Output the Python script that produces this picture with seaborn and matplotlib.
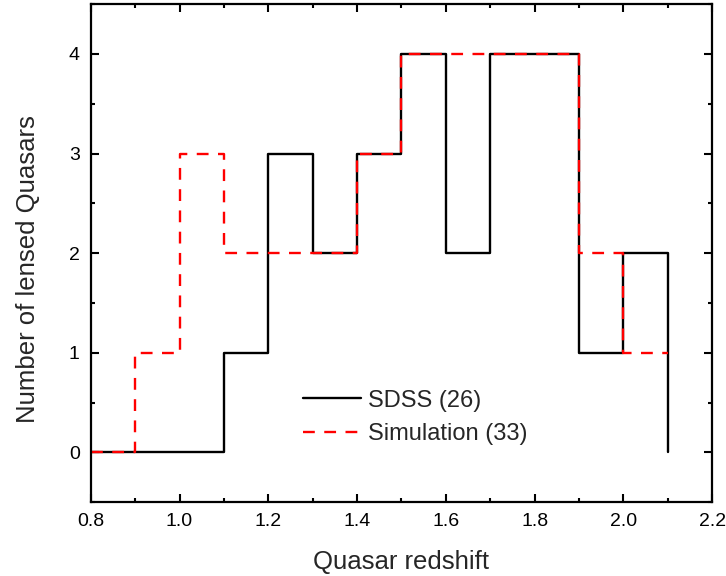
import numpy as np
import pandas as pd
import matplotlib
matplotlib.use("Agg")
import matplotlib.pyplot as plt
from matplotlib.ticker import MultipleLocator
import seaborn as sns

# Bin left edges (plus closing edge) and counts per bin
edges = [0.8, 0.9, 1.0, 1.1, 1.2, 1.3, 1.4, 1.5, 1.6, 1.7, 1.8, 1.9, 2.0, 2.1]
sdss_counts = [0, 0, 0, 1, 3, 2, 3, 4, 2, 4, 4, 1, 2, 0]
sim_counts = [0, 1, 3, 2, 2, 2, 3, 4, 4, 4, 4, 2, 1, 1]
sdss_label = "SDSS (26)"
sim_label = "Simulation (33)"

sns.set_theme(style="ticks")
plt.rcParams['font.family'] = ['Liberation Sans', 'DejaVu Sans']

df_sdss = pd.DataFrame({"z": edges, "n": sdss_counts})
df_sim = pd.DataFrame({"z": edges, "n": sim_counts})

fig = plt.figure(figsize=(7.26, 5.76), dpi=100)
ax = fig.add_axes([0.125, 0.128, 0.856, 0.865])

sns.lineplot(data=df_sdss, x="z", y="n", ax=ax, color="black", lw=1.7,
             drawstyle="steps-post", estimator=None, sort=False, label=sdss_label)
sns.lineplot(data=df_sim, x="z", y="n", ax=ax, color="red", lw=1.7,
             drawstyle="steps-post", estimator=None, sort=False, label=sim_label)
ax.lines[1].set_dashes([5, 4])

ax.set_xlim(0.8, 2.2)
ax.set_ylim(-0.5, 4.5)
ax.xaxis.set_major_locator(MultipleLocator(0.2))
ax.xaxis.set_minor_locator(MultipleLocator(0.1))
ax.yaxis.set_major_locator(MultipleLocator(1))
ax.yaxis.set_minor_locator(MultipleLocator(0.5))
ax.set_xticklabels([f"{v:.1f}" for v in ax.get_xticks()])
ax.tick_params(which="both", direction="in", top=True, right=True, width=1.5,
               labelsize=14, colors="black", pad=8)
ax.tick_params(which="major", length=6)
ax.tick_params(which="minor", length=3)
for s in ax.spines.values():
    s.set_linewidth(1.6)
    s.set_color("black")

ax.set_xlabel("Quasar redshift", fontsize=18.5)
ax.set_ylabel("Number of lensed Quasars", fontsize=18.5)
ax.xaxis.set_label_coords(0.5, -0.096)
ax.yaxis.set_label_coords(-0.082, 0.469)

ax.legend(loc="center left", bbox_to_anchor=(0.341, 0.17), frameon=False,
          fontsize=17, handlelength=2.45, handletextpad=0.3, labelspacing=0.5,
          borderpad=0, borderaxespad=0)

fig.savefig("out.png", dpi=100)
